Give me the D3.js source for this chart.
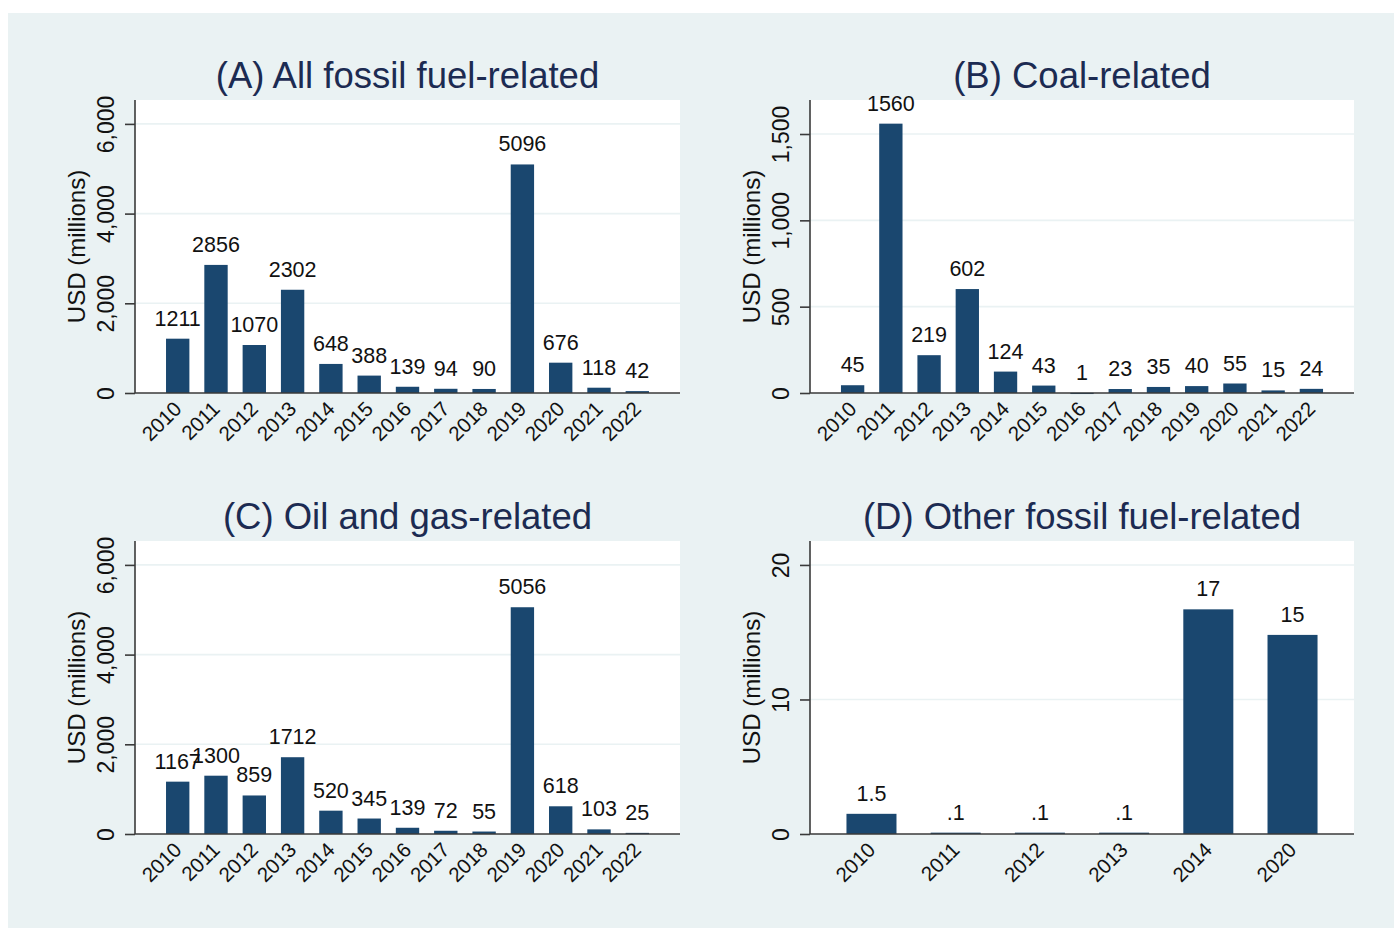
<!DOCTYPE html>
<html>
<head>
<meta charset="utf-8">
<script src="https://cdn.jsdelivr.net/npm/d3@7"></script>
<style>
  html, body { margin: 0; padding: 0; background: #ffffff; }
  svg { display: block; font-family: "Liberation Sans", Arial, Helvetica, sans-serif; }
</style>
</head>
<body>
<svg id="chart" width="1394" height="928"></svg>
<script>
// ---- Data ----
const years = ["2010","2011","2012","2013","2014","2015","2016","2017","2018","2019","2020","2021","2022"];
const allFossil = [1211, 2856, 1070, 2302, 648, 388, 139, 94, 90, 5096, 676, 118, 42];
const coal = [45, 1560, 219, 602, 124, 43, 1, 23, 35, 40, 55, 15, 24];
const oilGas = [1167, 1300, 859, 1712, 520, 345, 139, 72, 55, 5056, 618, 103, 25];
const otherYears = ["2010","2011","2012","2013","2014","2020"];
const otherFossil = [1.5, 0.1, 0.1, 0.1, 16.7, 14.8];

const titles = ["(A) All fossil fuel-related", "(B) Coal-related", "(C) Oil and gas-related", "(D) Other fossil fuel-related"];
const yAxisTitle = "USD (millions)";
const ticksAC = [0, 2000, 4000, 6000];
const ticksB = [0, 500, 1000, 1500];
const ticksD = [0, 10, 20];

// ---- Styling ----
const BG = "#eaf2f3";
const BAR = "#1a476f";
const TITLE = "#1c2b52";
const AXIS = "#3a3a3a";

const svg = d3.select("#chart");
svg.append("rect").attr("x", 8).attr("y", 13).attr("width", 1394 - 8).attr("height", 928 - 13).attr("fill", BG);

const fmtInt = v => String(v);
const fmtSmall = v => d3.format(".2~g")(v).replace(/^0\./, ".");

const panels = [
  { title: titles[0], cats: years, vals: allFossil, ticks: ticksAC, yMax: 6533, x0: 135, x1: 680, yTop: 100, yBase: 393, pi: 0.39, po: 0.81, fmt: fmtInt },
  { title: titles[1], cats: years, vals: coal, ticks: ticksB, yMax: 1697, x0: 810, x1: 1354, yTop: 100, yBase: 393, pi: 0.39, po: 0.81, fmt: fmtInt },
  { title: titles[2], cats: years, vals: oilGas, ticks: ticksAC, yMax: 6533, x0: 135, x1: 680, yTop: 541, yBase: 834, pi: 0.39, po: 0.81, fmt: fmtInt },
  { title: titles[3], cats: otherYears, vals: otherFossil, ticks: ticksD, yMax: 21.78, x0: 810, x1: 1354, yTop: 541, yBase: 834, pi: 0.406, po: 0.433, fmt: fmtSmall }
];

panels.forEach(p => {
  const g = svg.append("g");
  const x = d3.scaleBand().domain(p.cats).range([p.x0, p.x1]).paddingInner(p.pi).paddingOuter(p.po);
  const y = d3.scaleLinear().domain([0, p.yMax]).range([p.yBase, p.yTop]);

  // plot area
  g.append("rect").attr("x", p.x0).attr("y", p.yTop).attr("width", p.x1 - p.x0).attr("height", p.yBase - p.yTop).attr("fill", "#ffffff");

  // gridlines
  g.selectAll(".grid").data(p.ticks.filter(t => t > 0)).join("line")
    .attr("x1", p.x0).attr("x2", p.x1)
    .attr("y1", d => y(d)).attr("y2", d => y(d))
    .attr("stroke", BG).attr("stroke-width", 1.6);

  // bars
  const data = p.cats.map((c, i) => ({ c, v: p.vals[i] }));
  g.selectAll(".bar").data(data).join("rect")
    .attr("x", d => x(d.c)).attr("width", x.bandwidth())
    .attr("y", d => y(d.v)).attr("height", d => Math.max(1.2, p.yBase - y(d.v)))
    .attr("fill", BAR);

  // value labels
  g.selectAll(".vlab").data(data).join("text")
    .attr("x", d => x(d.c) + x.bandwidth() / 2)
    .attr("y", d => y(d.v) - 13)
    .attr("text-anchor", "middle")
    .attr("font-size", 21.5).attr("fill", "#111")
    .text(d => p.fmt(d.v));

  // y axis
  const yAxis = d3.axisLeft(y).tickValues(p.ticks).tickFormat(d3.format(",")).tickSize(10).tickPadding(0);
  const ya = g.append("g").attr("transform", `translate(${p.x0},0)`).call(yAxis);
  ya.select(".domain").attr("stroke", AXIS).attr("stroke-width", 1.6).attr("d", `M0,${p.yTop}V${p.yBase}`);
  ya.selectAll(".tick line").attr("stroke", AXIS).attr("stroke-width", 1.6);
  ya.selectAll(".tick text")
    .attr("font-size", 23).attr("fill", "#111")
    .attr("font-family", "'Liberation Sans', Arial, sans-serif")
    .attr("text-anchor", "middle")
    .attr("x", null).attr("dy", null)
    .attr("transform", "translate(-21,0) rotate(-90)")
    .attr("y", 0);

  // x axis
  const xAxis = d3.axisBottom(x).tickSize(0).tickPadding(0);
  const xa = g.append("g").attr("transform", `translate(0,${p.yBase})`).call(xAxis);
  xa.select(".domain").attr("stroke", AXIS).attr("stroke-width", 1.6).attr("d", `M${p.x0},0H${p.x1}`);
  xa.selectAll(".tick text")
    .attr("font-size", 20.5).attr("fill", "#111")
    .attr("font-family", "'Liberation Sans', Arial, sans-serif")
    .attr("text-anchor", "end")
    .attr("y", 0).attr("dy", "0.35em")
    .attr("transform", "translate(0,12) rotate(-45)");

  // y axis title
  g.append("text")
    .attr("transform", `translate(${p.x0 - 50},${(p.yTop + p.yBase) / 2}) rotate(-90)`)
    .attr("text-anchor", "middle").attr("font-size", 24).attr("fill", "#111")
    .text(yAxisTitle);

  // panel title
  g.append("text")
    .attr("x", (p.x0 + p.x1) / 2).attr("y", p.yTop - 12)
    .attr("text-anchor", "middle").attr("font-size", 36.5).attr("fill", TITLE)
    .text(p.title);
});
</script>
</body>
</html>
